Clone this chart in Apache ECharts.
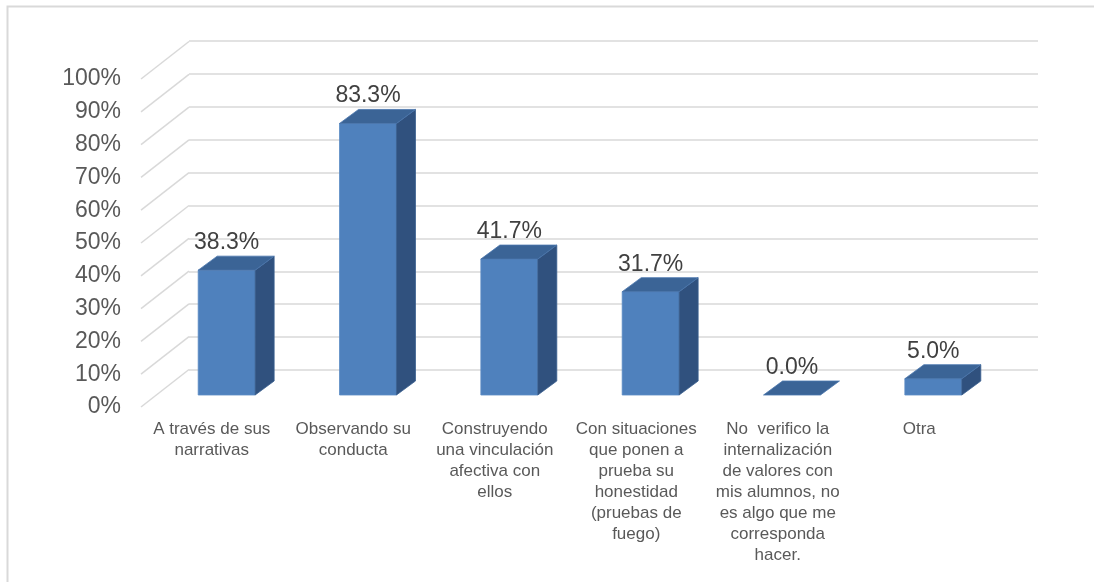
<!DOCTYPE html>
<html>
<head>
<meta charset="utf-8">
<script src="https://cdn.jsdelivr.net/npm/echarts@6/dist/echarts.min.js"></script>
<style>html,body{margin:0;padding:0;background:#fff}#c{width:1094px;height:582px}</style>
</head>
<body>
<div id="c"></div>
<script>
const categories = [
  'A través de sus\nnarrativas',
  'Observando su\nconducta',
  'Construyendo\nuna vinculación\nafectiva con\nellos',
  'Con situaciones\nque ponen a\nprueba su\nhonestidad\n(pruebas de\nfuego)',
  'No  verifico la\ninternalización\nde valores con\nmis alumnos, no\nes algo que me\ncorresponda\nhacer.',
  'Otra'
];
const values = [38.3, 83.3, 41.7, 31.7, 0.0, 5.0];
const yTicks = [0, 10, 20, 30, 40, 50, 60, 70, 80, 90, 100];

const FONT = '"Liberation Sans", Arial, sans-serif';
const DX = 19, DY = -14;
const chart = echarts.init(document.getElementById('c'), null, {renderer: 'canvas'});

chart.setOption({
  backgroundColor: '#ffffff',
  animation: false,
  graphic: [{
    type: 'rect', shape: {x: 7.5, y: 6.5, width: 1200, height: 700},
    style: {fill: 'none', stroke: '#d9d9d9', lineWidth: 2}, silent: true, z: -10
  }],
  grid: [
    {left: 156, right: 90, top: 69, bottom: 187},
    {left: 189, right: 56, top: 41, bottom: 212},
    {left: 141, right: 104, top: 79, bottom: 175}
  ],
  xAxis: [
    {gridIndex: 0, type: 'category', data: categories, show: false},
    {gridIndex: 1, type: 'category', data: categories, show: false},
    {gridIndex: 2, type: 'category', data: categories,
      axisLine: {show: false}, axisTick: {show: false}, splitLine: {show: false},
      axisLabel: {interval: 0, margin: 12, fontSize: 17, lineHeight: 21, color: '#595959', fontFamily: FONT, align: 'center'}}
  ],
  yAxis: [
    {gridIndex: 0, type: 'value', min: 0, max: 100, interval: 10, show: false},
    {gridIndex: 1, type: 'value', min: 0, max: 100, interval: 10,
      axisLine: {show: false}, axisTick: {show: false}, axisLabel: {show: false},
      splitLine: {show: true, lineStyle: {color: '#d9d9d9', width: 1.5}}},
    {gridIndex: 2, type: 'value', min: 0, max: 100, interval: 10,
      axisLine: {show: false}, axisTick: {show: false}, splitLine: {show: false},
      axisLabel: {margin: 20, fontSize: 23, color: '#595959', fontFamily: FONT, formatter: '{value}%'}}
  ],
  series: [
    {
      type: 'custom', xAxisIndex: 2, yAxisIndex: 2, silent: true, z: 1,
      data: yTicks.map(v => [0, v]),
      renderItem: function (params, api) {
        const y = api.coord([0, api.value(1)])[1];
        const x = params.coordSys.x;
        return {type: 'line', shape: {x1: x, y1: y, x2: x + 48, y2: y - 37.5},
          style: {stroke: '#d9d9d9', lineWidth: 1.5}};
      }
    },
    {
      type: 'custom', xAxisIndex: 0, yAxisIndex: 0, silent: true, z: 5,
      data: values.map((v, i) => [i, v]),
      renderItem: function (params, api) {
        const i = api.value(0), v = api.value(1);
        const base = api.coord([i, 0]);
        const top = api.coord([i, v]);
        const bw = api.size([1, 0])[0] * 0.403;
        const x0 = base[0] - bw / 2, x1 = base[0] + bw / 2;
        const yb = base[1], yt = top[1];
        const children = [];
        if (yb - yt > 0.5) {
          children.push({type: 'rect', shape: {x: x0, y: yt, width: bw, height: yb - yt},
            style: {fill: '#4f81bd', stroke: '#5a8ac4', lineWidth: 0.8}});
          children.push({type: 'polygon', shape: {points: [[x1, yb], [x1 + DX, yb + DY], [x1 + DX, yt + DY], [x1, yt]]},
            style: {fill: '#30517e', stroke: '#3a5f8f', lineWidth: 0.8}});
        }
        children.push({type: 'polygon', shape: {points: [[x0, yt], [x0 + DX, yt + DY], [x1 + DX, yt + DY], [x1, yt]]},
          style: {fill: '#3b6496', stroke: '#4a76ad', lineWidth: 0.8}});
        children.push({type: 'text', style: {x: base[0], y: yt + DY - 2, text: v.toFixed(1) + '%',
          align: 'center', verticalAlign: 'bottom', fontSize: 23, fill: '#404040', fontFamily: FONT}});
        return {type: 'group', children: children};
      }
    }
  ]
});
</script>
</body>
</html>
